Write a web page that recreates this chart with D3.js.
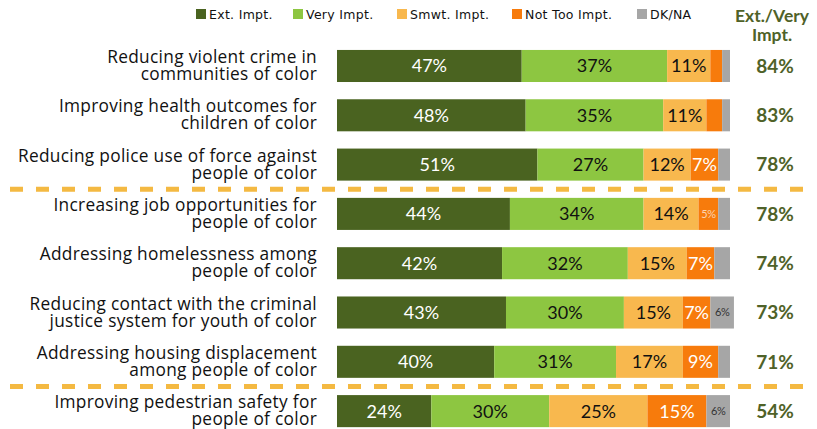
<!DOCTYPE html>
<html>
<head>
<meta charset="utf-8">
<script src="https://cdn.jsdelivr.net/npm/d3@7"></script>
<style>
  body { margin: 0; background: #fff; }
  svg { display: block; }
</style>
</head>
<body>
<div id="chart"></div>
<script>
var categories = [
    ["Reducing violent crime in", "communities of color"],
    ["Improving health outcomes for", "children of color"],
    ["Reducing police use of force against", "people of color"],
    ["Increasing job opportunities for", "people of color"],
    ["Addressing homelessness among", "people of color"],
    ["Reducing contact with the criminal", "justice system for youth of color"],
    ["Addressing housing displacement", "among people of color"],
    ["Improving pedestrian safety for", "people of color"]
];
var seriesNames = ["Ext. Impt.", "Very Impt.", "Smwt. Impt.", "Not Too Impt.", "DK/NA"];
var extImpt = [47, 48, 51, 44, 42, 43, 40, 24];
var veryImpt = [37, 35, 27, 34, 32, 30, 31, 30];
var smwtImpt = [11, 11, 12, 14, 15, 15, 17, 25];
var notTooImpt = [3, 4, 7, 5, 7, 7, 9, 15];
var dkna = [2, 2, 3, 3, 4, 6, 3, 6];
var extVery = [84, 83, 78, 78, 74, 73, 71, 54];
// dashed separators after these rows
var breaksAfter = [2, 6];

var W = 817, H = 429;
var colors = ["#4a6320", "#8dc641", "#f8b84e", "#f77b0c", "#a6a6a6"];
var textColors = ["#fff", "#111", "#111", "#fff", "#333"];
var series = [extImpt, veryImpt, smwtImpt, notTooImpt, dkna];

var svg = d3.select("#chart").append("svg")
    .attr("width", W)
    .attr("height", H);

var x = d3.scaleLinear().domain([0, 100]).range([337, 730]);
var y = d3.scaleBand()
    .domain(d3.range(categories.length))
    .range([32.7, 444.4])
    .paddingInner(0.35)
    .paddingOuter(0.35);

var rows = categories.map(function (c, i) {
    var acc = 0;
    return series.map(function (s, k) {
        var seg = { row: i, k: k, v: s[i], x0: acc, x1: acc + s[i] };
        acc += s[i];
        return seg;
    });
});
var segs = [].concat.apply([], rows);

// dashed separators
breaksAfter.forEach(function (b) {
    var yy = (y(b) + y.bandwidth() + y(b + 1)) / 2;
    svg.append("line")
        .attr("x1", 10).attr("x2", 806)
        .attr("y1", yy).attr("y2", yy)
        .attr("stroke", "#f4b942")
        .attr("stroke-width", 5)
        .attr("stroke-dasharray", "13,13");
});

svg.append("g")
    .selectAll("rect")
    .data(segs)
    .enter()
    .append("rect")
    .attr("x", function (d) { return x(d.x0); })
    .attr("width", function (d) { return x(d.x1) - x(d.x0); })
    .attr("y", function (d) { return y(d.row); })
    .attr("height", y.bandwidth())
    .attr("fill", function (d) { return colors[d.k]; });

svg.append("g")
    .selectAll("text")
    .data(segs.filter(function (d) { return d.v >= 5; }))
    .enter()
    .append("text")
    .attr("x", function (d) { return (x(d.x0) + x(d.x1)) / 2; })
    .attr("y", function (d) { return y(d.row) + y.bandwidth() / 2; })
    .attr("dy", "0.36em")
    .attr("text-anchor", "middle")
    .style("font-family", "Lato, 'Open Sans', sans-serif")
    .style("font-size", function (d) { return d.v < 7 ? "11px" : "18px"; })
    .style("letter-spacing", function (d) { return d.v < 7 ? "-0.5px" : "0"; })
    .attr("fill", function (d) { return d.k === 3 && d.v < 7 ? "#fbd3b0" : textColors[d.k]; })
    .text(function (d) { return d.v + "%"; });

// category labels
var lab = svg.append("g")
    .selectAll("g")
    .data(categories)
    .enter()
    .append("g");
[0, 1].forEach(function (ln) {
    lab.append("text")
        .attr("text-anchor", "end")
        .attr("x", 317)
        .attr("y", function (d, i) { return y(i) + y.bandwidth() / 2 + (ln ? 14 : -3); })
        .style("font-family", "'Open Sans', sans-serif")
        .style("font-size", "17.3px")
        .style("letter-spacing", "0.3px")
        .attr("fill", "#111")
        .text(function (d) { return d[ln]; });
});

// Ext./Very column
svg.append("text")
    .attr("x", 772).attr("y", 22)
    .attr("text-anchor", "middle")
    .style("font-family", "Lato, sans-serif")
    .style("font-weight", "bold")
    .style("font-size", "17.5px")
    .attr("fill", "#4f6228")
    .text("Ext./Very");
svg.append("text")
    .attr("x", 772).attr("y", 41)
    .attr("text-anchor", "middle")
    .style("font-family", "Lato, sans-serif")
    .style("font-weight", "bold")
    .style("font-size", "17.5px")
    .attr("fill", "#4f6228")
    .text("Impt.");

svg.append("g")
    .selectAll("text")
    .data(extVery)
    .enter()
    .append("text")
    .attr("x", 775)
    .attr("y", function (d, i) { return y(i) + y.bandwidth() / 2; })
    .attr("dy", "0.36em")
    .attr("text-anchor", "middle")
    .style("font-family", "Lato, sans-serif")
    .style("font-weight", "bold")
    .style("font-size", "19px")
    .attr("fill", "#4f6228")
    .text(function (d) { return d + "%"; });

// legend
var legendX = [196, 293, 397, 512, 637];
var legend = svg.append("g");
seriesNames.forEach(function (name, k) {
    legend.append("rect")
        .attr("x", legendX[k]).attr("y", 9)
        .attr("width", 10).attr("height", 10)
        .attr("fill", colors[k]);
    legend.append("text")
        .attr("x", legendX[k] + 13).attr("y", 14)
        .attr("dy", "0.36em")
        .style("font-family", "'DejaVu Sans', sans-serif")
        .style("font-size", "12.5px")
        .style("letter-spacing", "0.3px")
        .attr("fill", "#111")
        .text(name);
});
</script>
</body>
</html>
